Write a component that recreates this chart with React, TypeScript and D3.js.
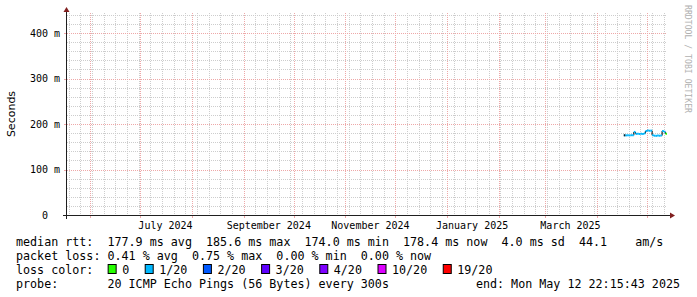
import React from 'react';
import * as d3 from 'd3';

// ---- data ----
const END_TIME = new Date(Date.UTC(2025, 4, 12, 22, 15, 43));
const RANGE_DAYS = 360;

const sampleDates = [
  '2025-04-17', '2025-04-18', '2025-04-19', '2025-04-20', '2025-04-21', '2025-04-22',
  '2025-04-23', '2025-04-24', '2025-04-25', '2025-04-26', '2025-04-27', '2025-04-28',
  '2025-04-29', '2025-04-30', '2025-05-01', '2025-05-02', '2025-05-03', '2025-05-04',
  '2025-05-05', '2025-05-06', '2025-05-07', '2025-05-08', '2025-05-09', '2025-05-10',
  '2025-05-11', '2025-05-12',
];
const medianMs = [
  175.2, 175.0, 175.3, 175.0, 175.4, 175.1,
  182.6, 178.3, 178.8, 178.1, 178.6, 178.2,
  179.4, 184.7, 185.6, 185.2, 185.4, 175.2,
  174.3, 174.0, 174.6, 174.2, 174.8, 184.9,
  183.0, 178.4,
];
const lossOf20 = [
  1, 1, 1, 1, 1, 1,
  1, 1, 1, 1, 1, 1,
  1, 1, 1, 1, 1, 1,
  1, 1, 1, 1, 1, 1,
  1, 0,
];

const yMajorTicks = [0, 100, 200, 300, 400];
const yTickLabels = ['0  ', '100 m', '200 m', '300 m', '400 m'];
const labelMonths = ['2024-07-01', '2024-09-01', '2024-11-01', '2025-01-01', '2025-03-01'];

const lossThresholds = [0, 1, 2, 3, 4, 10, 19];
const lossLabels = ['0', '1/20', '2/20', '3/20', '4/20', '10/20', '19/20'];
const lossColors = ['#26ff00', '#00b8ff', '#0059ff', '#5e00ff', '#7e00ff', '#dd00ff', '#ff0000'];

const rttStats = [177.9, 185.6, 174.0, 178.4];
const rttStatNames = ['avg', 'max', 'min', 'now'];
const rttSd = 4.0;
const rttAmS = 44.1;
const lossStats = [0.41, 0.75, 0.0, 0.0];
const probeText = '20 ICMP Echo Pings (56 Bytes) every 300s';

// ---- layout ----
const W = 697;
const H = 297;
const PX0 = 67;
const PX1 = 667;
const PY0 = 215;
const PY1 = 13;
const MONO = '"DejaVu Sans Mono", monospace';
const SANS = '"DejaVu Sans", sans-serif';
const CHAR_W = 7.05;
const LEG_FS = 11.7;

const minorCol = '#cdcdcd';
const majorCol = '#eea8a8';
const arrowCol = '#801f1f';

const nb = (s: string) => s.replace(/ /g, '\u00a0');

function lossColor(n: number) {
  let idx = 0;
  for (let i = 0; i < lossThresholds.length; i++) if (n >= lossThresholds[i]) idx = i;
  return lossColors[idx];
}

export default function App() {
  const start = new Date(END_TIME.getTime() - RANGE_DAYS * 86400000);
  const x = d3.scaleUtc().domain([start, END_TIME]).range([PX0, PX1]);
  const y = d3.scaleLinear().domain([0, 444]).range([PY0, PY1]);

  const months = d3.utcMonth.range(d3.utcMonth.ceil(start), END_TIME);
  const weeks = d3.utcSunday.range(d3.utcSunday.ceil(start), END_TIME);
  const yMinor = d3.range(20, 444, 20).filter((v) => v % 100 !== 0);

  const parse = d3.utcParse('%Y-%m-%d');
  const pts = sampleDates.map((d, i) => ({ t: parse(d) as Date, v: medianMs[i], l: lossOf20[i] }));

  const fmtMonth = d3.utcFormat('%B %Y');
  const fmt1 = d3.format('.1f');
  const fmt2 = d3.format('.2f');

  const line1 =
    'median rtt:  ' +
    rttStats.map((v, i) => `${fmt1(v)} ms ${rttStatNames[i]}`).join('  ') +
    `  ${fmt1(rttSd)} ms sd  ${fmt1(rttAmS)}    am/s`;
  const line2 = 'packet loss: ' + lossStats.map((v, i) => `${fmt2(v)} % ${rttStatNames[i]}`).join('  ');
  const line4 = 'probe:       ' + probeText;
  const endText = 'end: ' + d3.utcFormat('%a %b %d %H:%M:%S %Y')(END_TIME);

  // loss legend layout
  let cx = 16 + 13 * CHAR_W;
  const lossItems = lossLabels.map((lab, i) => {
    const bx = cx;
    const tx = bx + 14.5;
    cx = tx + lab.length * CHAR_W + 15.5;
    return { lab, color: lossColors[i], bx, tx };
  });

  // median segments
  const segs = pts.map((p, i) => {
    const tEnd = i < pts.length - 1 ? pts[i + 1].t : END_TIME;
    return { x0: x(p.t), x1: Math.min(x(tEnd), PX1), yv: y(p.v), color: lossColor(p.l) };
  });

  return (
    <svg
      width={W}
      height={H}
      style={{ position: 'absolute', left: 0, top: 0, background: '#fff' }}
      xmlns="http://www.w3.org/2000/svg"
    >
      <rect x={0} y={0} width={W} height={H} fill="#fff" />
      {/* minor grid */}
      <g stroke={minorCol} strokeWidth={1} strokeDasharray="1,1" shapeRendering="crispEdges">
        {weeks.map((d, i) => (
          <line key={'wv' + i} x1={Math.round(x(d)) + 0.5} x2={Math.round(x(d)) + 0.5} y1={PY1} y2={PY0} />
        ))}
        {yMinor.map((v, i) => (
          <line key={'hm' + i} x1={PX0} x2={PX1} y1={Math.round(y(v)) + 0.5} y2={Math.round(y(v)) + 0.5} />
        ))}
      </g>
      {/* major grid */}
      <g stroke={majorCol} strokeWidth={1} strokeDasharray="1,1" shapeRendering="crispEdges">
        {months.map((d, i) => (
          <line key={'mv' + i} x1={Math.round(x(d)) + 0.5} x2={Math.round(x(d)) + 0.5} y1={PY1} y2={PY0} />
        ))}
        {yMajorTicks.filter((v) => v > 0).map((v, i) => (
          <line key={'hM' + i} x1={PX0} x2={PX1} y1={Math.round(y(v)) + 0.5} y2={Math.round(y(v)) + 0.5} />
        ))}
      </g>
      {/* ticks */}
      <g stroke={majorCol} strokeWidth={1} shapeRendering="crispEdges">
        {months.map((d, i) => (
          <line key={'mt' + i} x1={Math.round(x(d)) + 0.5} x2={Math.round(x(d)) + 0.5} y1={PY0} y2={PY0 + 3} />
        ))}
        {yMajorTicks.map((v, i) => (
          <line key={'yt' + i} x1={PX0 - 3} x2={PX0} y1={Math.round(y(v)) + 0.5} y2={Math.round(y(v)) + 0.5} />
        ))}
      </g>

      {/* data */}
      <g fill="none" strokeLinecap="butt">
        {segs.map((s, i) =>
          i > 0 ? (
            <line key={'vj' + i} x1={s.x0} x2={s.x0} y1={segs[i - 1].yv} y2={s.yv} stroke="#202020" strokeWidth={1.2} />
          ) : null
        )}
        {segs.map((s, i) => (
          <line key={'hs' + i} x1={s.x0} x2={s.x1} y1={s.yv} y2={s.yv} stroke={s.color} strokeWidth={2} />
        ))}
        {segs.length > 0 && (
          <line x1={segs[0].x0} x2={segs[0].x0 + 1.5} y1={segs[0].yv} y2={segs[0].yv} stroke="#202020" strokeWidth={2} />
        )}
      </g>

      {/* axes */}
      <g stroke="#1f1f1f" strokeWidth={1} shapeRendering="crispEdges">
        <line x1={PX0 - 4} x2={PX1 + 3} y1={PY0 + 0.5} y2={PY0 + 0.5} />
        <line x1={PX0 - 0.5} x2={PX0 - 0.5} y1={PY0 + 4} y2={PY1 - 1} />
      </g>
      <path d={`M${PX1 + 3},${PY0 - 2.5} L${PX1 + 8},${PY0 + 0.5} L${PX1 + 3},${PY0 + 3.5} Z`} fill={arrowCol} />
      <path d={`M${PX0 - 3.5},${PY1 - 1} L${PX0 - 0.5},${PY1 - 6} L${PX0 + 2.5},${PY1 - 1} Z`} fill={arrowCol} />

      {/* y labels */}
      <g fontFamily={MONO} fontSize={10} fill="#000" textAnchor="end">
        {yMajorTicks.map((v, i) => (
          <text key={'yl' + i} x={60} y={y(v) + 3.6}>
            {nb(yTickLabels[i])}
          </text>
        ))}
      </g>
      {/* x labels */}
      <g fontFamily={MONO} fontSize={10} fill="#000" textAnchor="middle">
        {labelMonths.map((m, i) => {
          const d = parse(m) as Date;
          return (
            <text key={'xl' + i} x={x(new Date(d.getTime() + 15 * 86400000))} y={228.5}>
              {fmtMonth(d)}
            </text>
          );
        })}
      </g>

      {/* axis title */}
      <text transform="translate(14.5,114) rotate(-90)" fontFamily={SANS} fontSize={11} textAnchor="middle" fill="#000">
        Seconds
      </text>
      {/* watermark */}
      <text
        transform="translate(685,5) rotate(90)"
        fontFamily={MONO}
        fontSize={8.5}
        fill="#b0b0b0"
        textLength={108}
        lengthAdjust="spacingAndGlyphs"
      >
        {nb('RRDTOOL / TOBI OETIKER')}
      </text>

      {/* legend */}
      <g fontFamily={MONO} fontSize={LEG_FS} fill="#000">
        <text x={16} y={245.5}>{nb(line1)}</text>
        <text x={16} y={259.5}>{nb(line2)}</text>
        <text x={16} y={273.5}>{nb('loss color:')}</text>
        {lossItems.map((it, i) => (
          <g key={'li' + i}>
            <rect x={it.bx + 0.5} y={264.5} width={8} height={9} fill={it.color} stroke="#000" strokeWidth={1} />
            <text x={it.tx} y={273.5}>{it.lab}</text>
          </g>
        ))}
        <text x={16} y={287.5}>{nb(line4)}</text>
        <text x={680} y={287.5} textAnchor="end">{nb(endText)}</text>
      </g>
    </svg>
  );
}
